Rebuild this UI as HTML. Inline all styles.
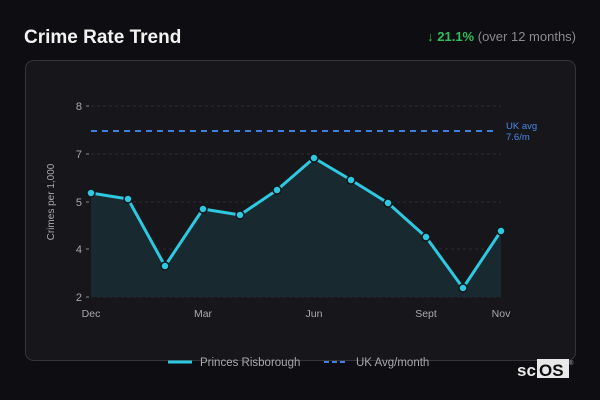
<!DOCTYPE html>
<html><head><meta charset="utf-8"><style>
html,body{margin:0;padding:0;width:600px;height:400px;background:#0e0d11;overflow:hidden;font-family:"Liberation Sans","DejaVu Sans",sans-serif}
</style></head><body>
<svg width="600" height="400" xmlns="http://www.w3.org/2000/svg" style="position:absolute;left:0;top:0">
<rect x="0" y="0" width="600" height="400" fill="#0e0d11"/>
<text x="24" y="43" font-size="19" font-weight="bold" fill="#f2f2f2" font-family="Liberation Sans, sans-serif">Crime Rate Trend</text>
<text x="576" y="41" text-anchor="end" font-size="13" fill="#8a8a8f" font-family="Liberation Sans, sans-serif"><tspan fill="#2fbf5a">↓ </tspan><tspan fill="#2fbf5a" font-weight="bold">21.1%</tspan> (over 12 months)</text>
<rect x="25.5" y="60.5" width="550" height="300" rx="8" fill="#17171b" stroke="#34343a"/>
<g stroke="#2c2c31" stroke-dasharray="3,3" stroke-width="1">
<line x1="91" y1="106" x2="501" y2="106"/><line x1="91" y1="154" x2="501" y2="154"/>
<line x1="91" y1="202" x2="501" y2="202"/><line x1="91" y1="249" x2="501" y2="249"/>
<line x1="91" y1="297" x2="501" y2="297"/></g>
<g stroke="#888" stroke-width="1"><line x1="86" y1="106" x2="89" y2="106"/><line x1="86" y1="154" x2="89" y2="154"/><line x1="86" y1="202" x2="89" y2="202"/><line x1="86" y1="249" x2="89" y2="249"/><line x1="86" y1="297" x2="89" y2="297"/></g>
<g font-size="11" fill="#a8a8ad" text-anchor="end" font-family="Liberation Sans, sans-serif">
<text x="82" y="110">8</text><text x="82" y="158">7</text><text x="82" y="206">5</text><text x="82" y="253">4</text><text x="82" y="301">2</text></g>
<text transform="translate(54,202) rotate(-90)" text-anchor="middle" font-size="10" fill="#a8a8ad" font-family="Liberation Sans, sans-serif">Crimes per 1,000</text>
<g font-size="10.5" fill="#a8a8ad" text-anchor="middle" font-family="Liberation Sans, sans-serif">
<text x="91" y="317">Dec</text><text x="203" y="317">Mar</text><text x="314" y="317">Jun</text><text x="426" y="317">Sept</text><text x="501" y="317">Nov</text></g>
<polygon points="91,297 91,193 128,199 165,266 203,209 240,215 277,190 314,158 351,180 388,203 426,237 463,288 501,231 501,297" fill="#18292f"/>
<line x1="91" y1="131" x2="496" y2="131" stroke="#3f7fe0" stroke-width="2" stroke-dasharray="6,5"/>
<text x="506" y="129" font-size="9.5" fill="#4a86e8" font-family="Liberation Sans, sans-serif">UK avg</text>
<text x="506" y="140" font-size="9.5" fill="#4a86e8" font-family="Liberation Sans, sans-serif">7.6/m</text>
<polyline points="91,193 128,199 165,266 203,209 240,215 277,190 314,158 351,180 388,203 426,237 463,288 501,231" fill="none" stroke="#2ec8e0" stroke-width="3" stroke-linejoin="round"/>
<g fill="#2ec8e0" stroke="#0e1518" stroke-width="1.5">
<circle cx="91" cy="193" r="4"/><circle cx="128" cy="199" r="4"/><circle cx="165" cy="266" r="4"/><circle cx="203" cy="209" r="4"/><circle cx="240" cy="215" r="4"/><circle cx="277" cy="190" r="4"/><circle cx="314" cy="158" r="4"/><circle cx="351" cy="180" r="4"/><circle cx="388" cy="203" r="4"/><circle cx="426" cy="237" r="4"/><circle cx="463" cy="288" r="4"/><circle cx="501" cy="231" r="4"/></g>
<line x1="168" y1="362" x2="192" y2="362" stroke="#2ec8e0" stroke-width="3"/>
<text x="200" y="366" font-size="11.5" fill="#a8a8ad" font-family="Liberation Sans, sans-serif">Princes Risborough</text>
<line x1="324" y1="362" x2="348" y2="362" stroke="#3f7fe0" stroke-width="2" stroke-dasharray="5,3"/>
<text x="356" y="366" font-size="11.5" fill="#a8a8ad" font-family="Liberation Sans, sans-serif">UK Avg/month</text>
<text x="517" y="376" font-size="17" font-weight="bold" fill="#e8e8e8" font-family="Liberation Sans, sans-serif">sc</text>
<rect x="537" y="359" width="32" height="19" fill="#e8e8e8"/>
<text x="539" y="376" font-size="17" font-weight="bold" fill="#0e0d11" font-family="Liberation Sans, sans-serif">OS</text>
<text x="569" y="365" font-size="6" fill="#bbb">®</text>
</svg>
</body></html>
